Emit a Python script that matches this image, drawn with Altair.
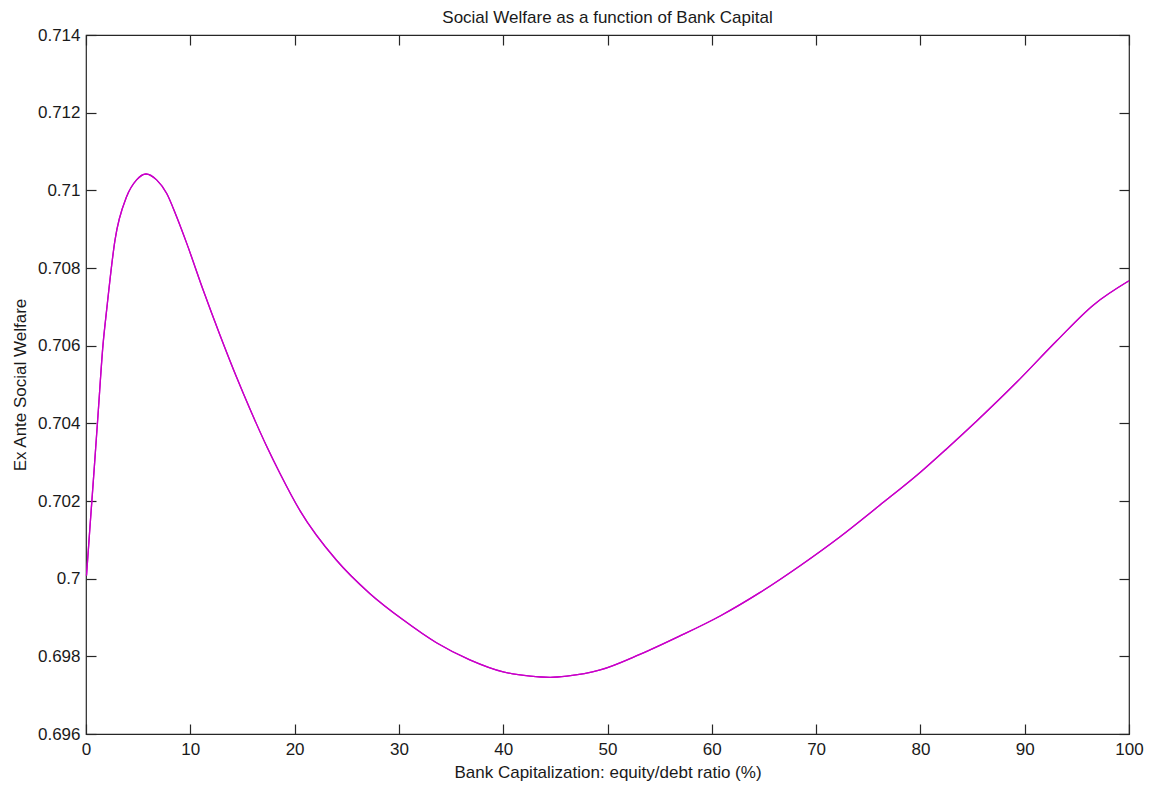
import altair as alt
import pandas as pd

# Bank capitalization (%) and ex ante social welfare
capital = [0.05, 0.38, 0.77, 1.15, 1.63, 1.98, 2.78, 3.9, 4.85, 5.75, 6.77, 7.74,
           8.69, 9.65, 11.25, 12.85, 14.45, 15.72, 17.32, 18.6, 20.5, 24.0, 27.2,
           30.4, 33.6, 36.8, 40.0, 42.6, 44.5, 46.1, 49.3, 53.1, 56.9, 60.8, 64.6,
           68.5, 72.3, 76.1, 80.0, 82.5, 85.4, 89.2, 93.05, 96.6, 100.0]
welfare = [0.70008, 0.70133, 0.70277, 0.70421, 0.70602, 0.70692, 0.70872, 0.70984,
           0.71027, 0.71042, 0.71027, 0.70992, 0.70932, 0.70864, 0.70742, 0.70627,
           0.70518, 0.70437, 0.70341, 0.70271, 0.70176, 0.70048, 0.69962, 0.69894,
           0.69835, 0.69791, 0.69760, 0.69749, 0.69746, 0.69749, 0.69765, 0.69805,
           0.69852, 0.69904, 0.69964, 0.70034, 0.70108, 0.70189, 0.70274, 0.70334,
           0.70406, 0.70505, 0.70612, 0.70705, 0.70767]

x_ticks = [0, 10, 20, 30, 40, 50, 60, 70, 80, 90, 100]
y_ticks = [0.696, 0.698, 0.700, 0.702, 0.704, 0.706, 0.708, 0.710, 0.712, 0.714]

df = pd.DataFrame({"capital": capital, "welfare": welfare})

FONT = "Liberation Sans"
AX = "#262626"
TICK = 10

xscale = alt.Scale(domain=[0, 100], nice=False, zero=False)
yscale = alt.Scale(domain=[0.696, 0.714], nice=False, zero=False)

base = alt.Chart(df)

main = base.mark_line(color="#C800C8", strokeWidth=1.3, interpolate="monotone").encode(
    x=alt.X("capital:Q", scale=xscale,
            axis=alt.Axis(values=x_ticks, format="d", orient="bottom", offset=-TICK,
                          tickSize=TICK, domain=False, grid=False, labelFlush=False,
                          labelPadding=7, titlePadding=7,
                          title="Bank Capitalization: equity/debt ratio (%)")),
    y=alt.Y("welfare:Q", scale=yscale,
            axis=alt.Axis(values=y_ticks, format="~g", orient="left", offset=-TICK,
                          tickSize=TICK, domain=False, grid=False, labelFlush=False,
                          labelPadding=6, titlePadding=8,
                          title="Ex Ante Social Welfare")),
)

frame = base.mark_line(color="#C800C8", strokeWidth=1.3, interpolate="monotone").encode(
    x=alt.X("capital:Q", scale=xscale,
            axis=alt.Axis(values=x_ticks, orient="top", offset=-TICK, tickSize=TICK,
                          domain=False, grid=False, labels=False, title=None)),
    y=alt.Y("welfare:Q", scale=yscale,
            axis=alt.Axis(values=y_ticks, orient="right", offset=-TICK, tickSize=TICK,
                          domain=False, grid=False, labels=False, title=None)),
)

chart = alt.layer(main, frame).resolve_axis(
    x="independent", y="independent"
).properties(
    width=1043,
    height=699,
    autosize=alt.AutoSizeParams(type="none"),
    padding={"left": 86, "top": 35, "right": 23, "bottom": 51},
    background="white",
    title=alt.TitleParams("Social Welfare as a function of Bank Capital",
                          font=FONT, fontSize=17, fontWeight="normal", color="#1a1a1a",
                          anchor="middle", baseline="alphabetic", offset=7, dy=21),
).configure_view(
    stroke=AX, strokeWidth=1.2
).configure_axis(
    labelFont=FONT, labelFontSize=17, labelColor="#1a1a1a",
    titleFont=FONT, titleFontSize=17, titleColor="#1a1a1a", titleFontWeight="normal",
    tickColor=AX, tickWidth=1.2,
)

chart.save("out.html", embed_options={"renderer": "svg", "actions": False})
